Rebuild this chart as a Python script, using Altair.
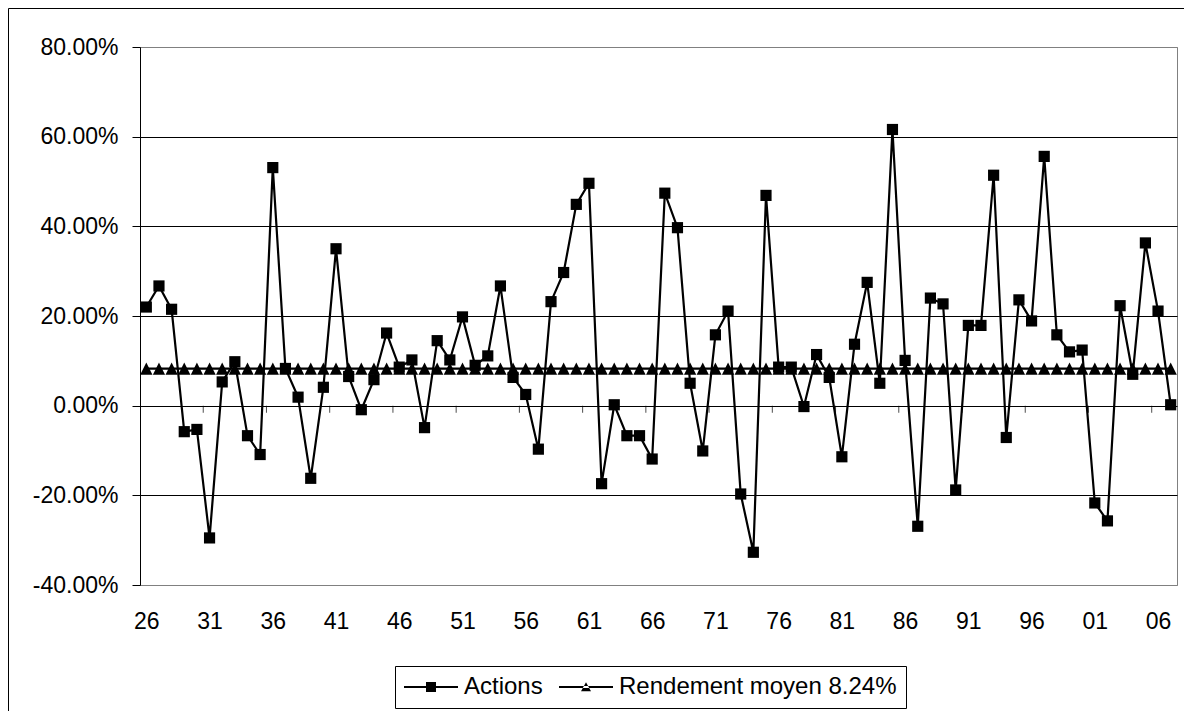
import altair as alt
import pandas as pd

years = list(range(1926, 2008))
actions = [22.0, 26.7, 21.5, -5.8, -5.3, -29.5, 5.3, 9.8, -6.7, -10.9,
           53.1, 8.3, 1.9, -16.2, 4.1, 35.0, 6.5, -0.9, 5.8, 16.2,
           8.6, 10.2, -4.9, 14.5, 10.2, 19.8, 9.0, 11.1, 26.7, 6.3,
           2.5, -9.7, 23.2, 29.7, 44.9, 49.6, -17.4, 0.2, -6.7, -6.7,
           -11.9, 47.4, 39.7, 5.0, -10.1, 15.8, 21.1, -19.7, -32.7, 46.9,
           8.6, 8.6, -0.2, 11.4, 6.3, -11.4, 13.7, 27.5, 5.0, 61.6,
           10.1, -26.9, 24.0, 22.7, -18.8, 17.9, 17.9, 51.4, -7.1, 23.6,
           18.9, 55.6, 15.8, 12.0, 12.4, -21.7, -25.7, 22.3, 7.0, 36.3,
           21.1, 0.2]
mean_return = 8.24
series_names = ["Actions", "Rendement moyen 8.24%"]
label_years = list(range(1926, 2008, 5))
tick_positions = [y + 0.5 for y in range(1930, 2006, 5)]
y_ticks = [-40, -20, 0, 20, 40, 60, 80]

rows = []
for yr, v in zip(years, actions):
    rows.append({"year": yr, "value": v, "series": series_names[0]})
for yr in years:
    rows.append({"year": yr, "value": mean_return, "series": series_names[1]})
df = pd.DataFrame(rows)
ticks_df = pd.DataFrame({"pos": tick_positions})

FONT = "Liberation Sans"

x_enc = alt.X("year:Q",
              scale=alt.Scale(domain=[1925.5, 2007.5], nice=False, zero=False),
              axis=alt.Axis(values=label_years,
                            labelExpr="substring(toString(datum.value), 2)",
                            ticks=False, domain=False, grid=False,
                            labelFontSize=23, labelFont=FONT, labelColor="black",
                            labelPadding=25, labelFlush=False, labelOverlap=False,
                            labelBound=False, title=None))
y_enc = alt.Y("value:Q",
              scale=alt.Scale(domain=[-40, 80], nice=False, zero=False),
              axis=alt.Axis(values=y_ticks,
                            labelExpr="(datum.value < 0 ? '-' : '') + format(abs(datum.value), '.2f') + '%'",
                            tickSize=8, tickColor="black", domainColor="black",
                            domainWidth=1, tickWidth=1,
                            grid=True,
                            gridColor={"condition": {"test": "datum.value === 80 || datum.value === -40",
                                                     "value": "#808080"},
                                       "value": "black"},
                            gridWidth=1, gridOpacity=1,
                            labelFontSize=23, labelFont=FONT, labelColor="black",
                            labelPadding=14, labelFlush=False, labelOverlap=False,
                            title=None))

# legend symbols: a 2px bar (the line) plus the marker, all filled
sq_path = "M-5.4,-0.22L5.4,-0.22L5.4,0.22L-5.4,0.22ZM-1,-1L1,-1L1,1L-1,1Z"
tri_path = "M-5.4,-0.22L5.4,-0.22L5.4,0.22L-5.4,0.22ZM-1,0.85L1,0.85L0,-0.95Z"
tri_marker = "M-1,1L1,1L0,-1Z"

legend = alt.Legend(
    orient="none", legendX=255, legendY=619, direction="horizontal",
    title=None, labelFontSize=24, labelFont=FONT, labelColor="black",
    labelLimit=500,
    strokeColor="black", fillColor="white", padding=9, cornerRadius=0,
    symbolSize=100, symbolOffset=15, labelOffset=21, columnPadding=13,
    symbolFillColor="black", symbolStrokeColor="black", symbolOpacity=1)

base = alt.Chart(df)

lines = base.mark_line(strokeWidth=2.2, color="black").encode(
    x=x_enc, y=y_enc, detail="series:N")

squares = base.transform_filter(alt.datum.series == series_names[0]).mark_point(
    shape="square", filled=True, size=125, color="black", opacity=1).encode(x="year:Q", y="value:Q")
triangles = base.transform_filter(alt.datum.series == series_names[1]).mark_point(
    shape=tri_marker, filled=True, size=150, color="black", opacity=1).encode(x="year:Q", y="value:Q")

legend_layer = base.transform_filter("false").mark_point(
    filled=True, color="black", size=100, opacity=1).encode(
    x="year:Q", y="value:Q",
    shape=alt.Shape("series:N", scale=alt.Scale(domain=series_names, range=[sq_path, tri_path]),
                    legend=legend))

ticks = alt.Chart(ticks_df).mark_tick(orient="vertical", size=7, thickness=1,
                                      yOffset=3.5, color="black").encode(
    x="pos:Q", y=alt.datum(0))

frame = alt.Chart(alt.Data(values=[{"a": 1}])).mark_rect(
    filled=False, stroke="black", strokeWidth=1).encode(
    x=alt.value(-131.5), y=alt.value(-38.5), x2=alt.value(1100), y2=alt.value(800))

chart = alt.layer(frame, lines, triangles, squares, ticks, legend_layer).properties(
    width=1037, height=538,
    padding={"left": 132, "top": 39, "right": 7, "bottom": 126},
    autosize=alt.AutoSizeParams(type="none"),
).configure(font=FONT).configure_view(stroke="#808080", strokeWidth=1)

chart.save("out.html", embed_options={"renderer": "svg", "actions": False})
